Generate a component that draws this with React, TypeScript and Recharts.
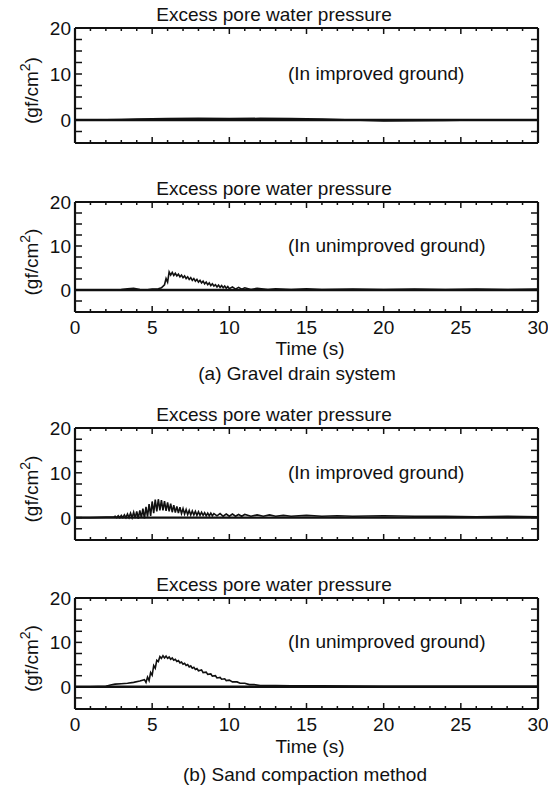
import { LineChart, Line, XAxis, YAxis, ReferenceLine } from "recharts";

const FONT = '"Liberation Sans", Arial, Helvetica, sans-serif';

// time (s), excess pore water pressure (gf/cm2)
const gravelImproved: [number, number][] = [
  [0, 0], [2, 0.05], [3, 0.1], [4, 0.2], [5, 0.25], [6, 0.3], [8, 0.35], [10, 0.3],
  [12, 0.35], [14, 0.3], [16, 0.2], [18, 0], [20, -0.2], [22, -0.15], [24, -0.1],
  [26, 0], [28, 0], [30, 0],
];

const gravelUnimproved: [number, number][] = [
  [0, 0], [1, 0.05], [2, 0], [3, 0.1], [3.4, 0.3], [3.8, 0.4], [4.2, 0.1], [4.6, 0],
  [5.0, 0.2], [5.4, 0.3], [5.6, 0.5], [5.8, 1.2], [5.9, 2.6], [6.0, 1.8], [6.1, 4.1],
  [6.2, 3.4], [6.3, 4.0], [6.4, 3.3], [6.5, 3.8], [6.6, 3.2], [6.7, 3.6], [6.8, 3.0],
  [6.9, 3.4], [7.0, 2.8], [7.1, 3.2], [7.2, 2.6], [7.3, 3.0], [7.4, 2.4], [7.5, 2.8],
  [7.6, 2.2], [7.7, 2.6], [7.8, 2.0], [7.9, 2.4], [8.0, 1.8], [8.1, 2.2], [8.2, 1.6],
  [8.3, 2.0], [8.4, 1.4], [8.5, 1.8], [8.6, 1.2], [8.7, 1.6], [8.8, 1.0], [8.9, 1.4],
  [9.0, 0.9], [9.1, 1.2], [9.2, 0.7], [9.3, 1.1], [9.4, 0.6], [9.5, 1.0], [9.6, 0.5],
  [9.7, 0.9], [9.8, 0.4], [9.9, 0.8], [10.0, 0.3], [10.2, 0.7], [10.4, 0.2], [10.6, 0.6],
  [10.8, 0.2], [11.0, 0.5], [11.4, 0.1], [11.8, 0.4], [12.5, 0.1], [13, 0.3], [14, 0.1],
  [15, 0.3], [16, 0.1], [18, 0.2], [20, 0.1], [22, 0.2], [24, 0.1], [26, 0.2], [28, 0.1],
  [30, 0.2],
];

const sandImproved: [number, number][] = [
  [0, 0], [1, 0], [2, 0.1], [2.5, 0.1], [2.6, 0.3], [2.7, 0], [2.8, 0.4], [2.9, 0],
  [3.0, 0.5], [3.1, 0], [3.2, 0.6], [3.3, 0], [3.4, 0.8], [3.5, 0], [3.6, 1.0], [3.7, 0],
  [3.8, 1.2], [3.9, -0.1], [4.0, 1.4], [4.1, -0.2], [4.2, 1.6], [4.3, 0], [4.4, 2.0],
  [4.5, -0.2], [4.6, 2.4], [4.7, 0.2], [4.8, 3.0], [4.9, 0.4], [5.0, 3.6], [5.1, 1.0],
  [5.2, 4.0], [5.3, 1.4], [5.4, 4.1], [5.5, 1.6], [5.6, 3.9], [5.7, 1.6], [5.8, 3.7],
  [5.9, 1.5], [6.0, 3.4], [6.1, 1.4], [6.2, 3.1], [6.3, 1.2], [6.4, 2.8], [6.5, 1.1],
  [6.6, 2.5], [6.7, 1.0], [6.8, 2.3], [6.9, 0.9], [7.0, 2.0], [7.1, 0.8], [7.2, 1.8],
  [7.3, 0.7], [7.4, 1.6], [7.5, 0.6], [7.6, 1.5], [7.7, 0.6], [7.8, 1.4], [7.9, 0.5],
  [8.0, 1.3], [8.1, 0.5], [8.2, 1.2], [8.3, 0.5], [8.4, 1.1], [8.5, 0.4], [8.6, 1.0],
  [8.7, 0.4], [8.8, 1.0], [8.9, 0.4], [9.0, 0.9], [9.2, 0.4], [9.4, 0.9], [9.6, 0.3],
  [9.8, 0.8], [10.0, 0.3], [10.2, 0.8], [10.4, 0.3], [10.6, 0.7], [10.8, 0.3], [11.0, 0.7],
  [11.4, 0.3], [11.8, 0.6], [12.2, 0.3], [12.6, 0.6], [13.0, 0.3], [13.5, 0.5], [14, 0.3],
  [15, 0.5], [16, 0.3], [17, 0.4], [18, 0.3], [20, 0.4], [22, 0.3], [24, 0.3], [26, 0.2],
  [28, 0.3], [30, 0.2],
];

const sandUnimproved: [number, number][] = [
  [0, 0], [1, 0], [2, 0.1], [2.3, 0.4], [2.6, 0.6], [3.0, 0.7], [3.4, 0.8], [3.8, 1.0],
  [4.2, 1.3], [4.5, 1.6], [4.6, 1.0], [4.7, 2.2], [4.8, 1.4], [4.9, 3.2], [5.0, 2.6],
  [5.1, 4.8], [5.2, 4.2], [5.3, 6.0], [5.4, 5.7], [5.5, 6.8], [5.6, 6.4], [5.7, 7.0],
  [5.8, 6.5], [5.9, 6.9], [6.0, 6.4], [6.1, 6.7], [6.2, 6.2], [6.3, 6.5], [6.4, 6.0],
  [6.5, 6.2], [6.6, 5.7], [6.7, 5.9], [6.8, 5.4], [6.9, 5.6], [7.0, 5.1], [7.1, 5.3],
  [7.2, 4.8], [7.3, 5.0], [7.4, 4.5], [7.5, 4.7], [7.6, 4.2], [7.7, 4.4], [7.8, 3.9],
  [7.9, 4.1], [8.0, 3.6], [8.2, 3.8], [8.3, 3.2], [8.5, 3.3], [8.6, 2.8], [8.8, 2.9],
  [8.9, 2.4], [9.1, 2.5], [9.2, 2.0], [9.4, 2.1], [9.5, 1.7], [9.7, 1.8], [9.8, 1.4],
  [10.0, 1.5], [10.2, 1.1], [10.5, 1.1], [10.7, 0.8], [11.0, 0.8], [11.3, 0.5], [11.6, 0.5],
  [12, 0.3], [13, 0.3], [14, 0.2], [16, 0.2], [18, 0.15], [20, 0.1], [25, 0.1], [30, 0.1],
];

const xTicks = [0, 1, 2, 3, 4, 5, 6, 7, 8, 9, 10, 11, 12, 13, 14, 15, 16, 17, 18, 19, 20, 21, 22, 23, 24, 25, 26, 27, 28, 29, 30];
const yTicks = [-5, -2.5, 0, 2.5, 5, 7.5, 10, 12.5, 15, 17.5, 20];
const xLabels = [0, 5, 10, 15, 20, 25, 30];
const yLabels = [0, 10, 20];

const TITLE = "Excess pore water pressure";

const PLOT_LEFT = 75;
const PLOT_RIGHT = 538;
const PLOT_W = PLOT_RIGHT - PLOT_LEFT;
const MT = 12;

const ink = "#111";
const frame = { stroke: ink, strokeWidth: 2.2 };
const textStyle = { fontFamily: FONT, fontSize: 19, fill: ink };

// bottom axis tick: also mirrors a tick onto the top edge of the frame
const XTick = ({ x, y, payload, labels, plotH }: any) => {
  const v = payload.value;
  const major = v % 5 === 0;
  const len = major ? 6 : 3;
  return (
    <g>
      <line x1={x} x2={x} y1={y} y2={y - len} stroke={ink} strokeWidth={1.5} />
      <line x1={x} x2={x} y1={y - plotH} y2={y - plotH + len} stroke={ink} strokeWidth={1.5} />
      {labels && xLabels.includes(v) && (
        <text x={x} y={y + 22} textAnchor="middle" {...textStyle}>{v}</text>
      )}
    </g>
  );
};

// left axis tick: also mirrors a tick onto the right edge of the frame
const YTick = ({ x, y, payload }: any) => {
  const v = payload.value;
  const major = yLabels.includes(v);
  const len = 7;
  return (
    <g>
      <line x1={x} x2={x + len} y1={y} y2={y} stroke={ink} strokeWidth={1.5} />
      <line x1={x + PLOT_W} x2={x + PLOT_W - len} y1={y} y2={y} stroke={ink} strokeWidth={1.5} />
      {major && (
        <text x={x - 4} y={y + 7} textAnchor="end" {...textStyle}>{v}</text>
      )}
    </g>
  );
};

const UnitLabel = ({ viewBox }: any) => {
  const cy = viewBox.y + viewBox.height / 2 + 5;
  return (
    <text transform={`translate(38, ${cy}) rotate(-90)`} textAnchor="middle" {...textStyle}>
      (gf/cm<tspan dy={-8} fontSize={14}>2</tspan><tspan dy={8}>)</tspan>
    </text>
  );
};

interface PanelProps {
  data: [number, number][];
  top: number;
  plotH: number;
  note: string;
  labels: boolean;
}

const Panel = ({ data, top, plotH, note, labels }: PanelProps) => {
  const rows = data.map(([t, p]) => ({ t, p }));
  const bottomH = labels ? 30 : 4;
  const height = MT + plotH + bottomH;
  return (
    <>
      <div style={{ position: "absolute", left: 0, width: 548, top: top - 24, textAlign: "center", fontFamily: FONT, fontSize: 19, lineHeight: "22px", color: ink }}>
        {TITLE}
      </div>
      <div style={{ position: "absolute", left: 0, top: top - MT }}>
        <LineChart width={548} height={height} data={rows} margin={{ top: MT, right: 548 - PLOT_RIGHT, bottom: 0, left: 0 }}>
          <XAxis dataKey="t" type="number" domain={[0, 30]} ticks={xTicks} interval={0}
            orientation="bottom" height={bottomH} tickSize={0} tickMargin={0}
            axisLine={frame} tickLine={false}
            tick={(p: any) => <XTick {...p} labels={labels} plotH={plotH} />} />
          <YAxis type="number" domain={[-5, 20]} allowDataOverflow ticks={yTicks} interval={0}
            orientation="left" width={PLOT_LEFT} tickSize={0} tickMargin={0}
            axisLine={frame} tickLine={false}
            tick={(p: any) => <YTick {...p} />}
            label={{ content: (p: any) => <UnitLabel {...p} /> }} />
          <ReferenceLine y={20} {...frame} />
          <ReferenceLine x={30} {...frame} />
          <ReferenceLine y={0} stroke={ink} strokeWidth={2.4} />
          <Line type="linear" dataKey="p" stroke={ink} strokeWidth={1.6}
            dot={false} isAnimationActive={false} />
        </LineChart>
      </div>
      <div style={{ position: "absolute", left: 288, top: top + plotH * 0.4 - 11, fontFamily: FONT, fontSize: 19, lineHeight: "22px", color: ink, whiteSpace: "nowrap" }}>
        {note}
      </div>
    </>
  );
};

const Caption = ({ text, top, cx }: { text: string; top: number; cx: number }) => (
  <div style={{ position: "absolute", left: cx - 200, width: 400, top, textAlign: "center", fontFamily: FONT, fontSize: 19, lineHeight: "22px", color: ink }}>
    {text}
  </div>
);

export default function App() {
  return (
    <div style={{ position: "absolute", left: 0, top: 0, width: 548, height: 788, background: "#fff", overflow: "hidden" }}>
      <Panel data={gravelImproved} top={28} plotH={115} note="(In improved ground)" labels={false} />
      <Panel data={gravelUnimproved} top={202} plotH={110} note="(In unimproved ground)" labels={true} />
      <Caption text="Time (s)" top={338} cx={310} />
      <Caption text="(a) Gravel drain system" top={363} cx={297} />
      <Panel data={sandImproved} top={428} plotH={112} note="(In improved ground)" labels={false} />
      <Panel data={sandUnimproved} top={598} plotH={111} note="(In unimproved ground)" labels={true} />
      <Caption text="Time (s)" top={736} cx={310} />
      <Caption text="(b) Sand compaction method" top={764} cx={305} />
    </div>
  );
}
